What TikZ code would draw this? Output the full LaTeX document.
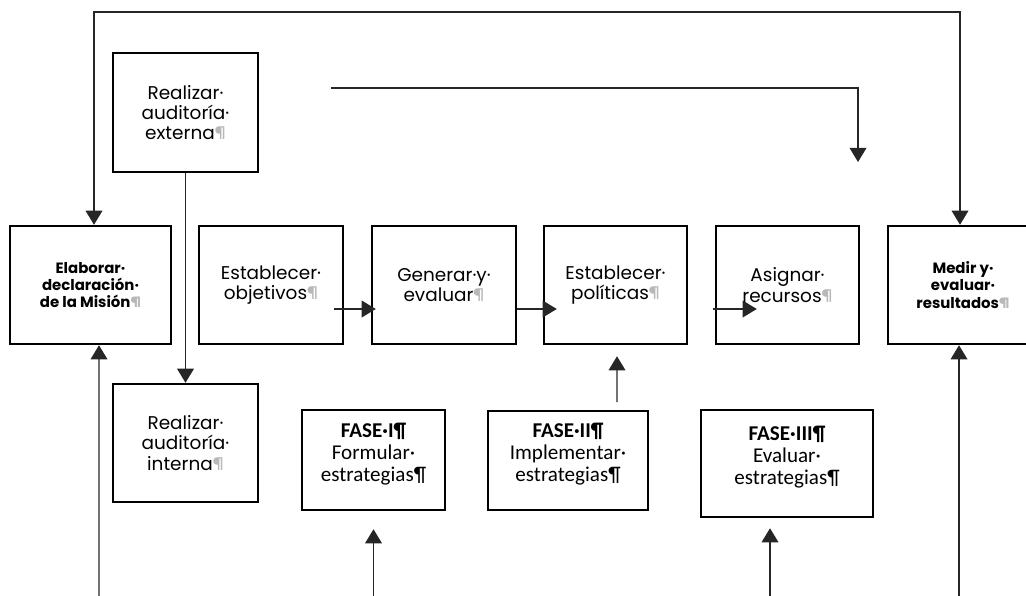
\documentclass[tikz,border=0pt]{standalone}
\usepackage{fontspec}
\setmainfont{Poppins}
\newfontfamily\calibri{Carlito}
\usetikzlibrary{arrows.meta,calc}
\newlength\px
\setlength\px{0.02cm}
\definecolor{marca}{gray}{0.72}
\newcommand\finmarca{{\color{marca}¶}}
\tikzset{
  punta/.tip={Triangle[length=8pt,width=9.5pt]},
  caja/.style={draw, line width=1.4pt, align=center, inner sep=0pt, font=\fontsize{10.5}{11.5}\selectfont},
  cajab/.style={caja, font=\bfseries\fontsize{8.5}{9.8}\selectfont},
  fase/.style={caja, text depth=9pt, font=\calibri\fontsize{12}{12.5}\selectfont},
  conector/.style={line width=0.7pt, draw=black!85},
  flecha/.style={conector, -punta},
}

\begin{document}
\begin{tikzpicture}[x=0.02cm, y=-0.02cm]
    \useasboundingbox (0,0) rectangle (1026,595);
    \clip (0,0) rectangle (1026,595);
    % Fila central
    \node[cajab, minimum width=161\px, minimum height=118\px] (mision) at (90.5,285) {Elaborar·\\declaración·\\de la Misión\finmarca};
    \node[caja, minimum width=144\px, minimum height=118\px] (objetivos) at (271,285) {Establecer·\\objetivos\finmarca};
    \node[caja, minimum width=144\px, minimum height=118\px] (generar) at (444,285) {Generar·y·\\evaluar\finmarca};
    \node[caja, minimum width=143\px, minimum height=118\px] (politicas) at (615.5,285) {Establecer·\\políticas\finmarca};
    \node[caja, minimum width=143\px, minimum height=118\px] (recursos) at (787.5,285) {Asignar·\\recursos\finmarca};
    \node[cajab, minimum width=150\px, minimum height=118\px] (medir) at (963,285) {Medir y·\\evaluar·\\resultados\finmarca};
    % Auditorias
    \node[caja, minimum width=145\px, minimum height=119\px] (externa) at (185.5,112.5) {Realizar·\\auditoría·\\externa\finmarca};
    \node[caja, minimum width=145\px, minimum height=118\px] (interna) at (185.5,443) {Realizar·\\auditoría·\\interna\finmarca};
    % Fases
    \node[fase, minimum width=143\px, minimum height=100\px] (faseI) at (373.5,460) {\textbf{FASE·I¶}\\Formular·\\estrategias¶};
    \node[fase, minimum width=160\px, minimum height=99\px] (faseII) at (568,460.5) {\textbf{FASE·II¶}\\Implementar·\\estrategias¶};
    \node[fase, minimum width=172\px, minimum height=107\px] (faseIII) at (787,463.5) {\textbf{FASE·III¶}\\Evaluar·\\estrategias¶};
    % Lazo superior
    \coordinate (arriba) at (500,12);
    \draw[conector, punta-punta] ([xshift=3.5\px]mision.north) |- (arriba) -| ([xshift=-3\px]medir.north);
    \coordinate (inicioA) at (331,88);
    \coordinate (puntaA) at (858,162);
    \draw[flecha] (inicioA) -| (puntaA);
    \draw[flecha] (externa) -- (interna);
    % Flechas de la fila central
    \draw[flecha] ([xshift=-10\px,yshift=-24\px]objetivos.east) -- ([xshift=5\px,yshift=-24\px]generar.west);
    \draw[flecha] ([yshift=-24\px]generar.east) -- ([xshift=14\px,yshift=-24\px]politicas.west);
    \draw[flecha] ([xshift=-2\px,yshift=-24\px]recursos.west) -- ([xshift=42\px,yshift=-24\px]recursos.west);
    \coordinate (baseII) at (617,402);
    \draw[flecha] (baseII) -- ([xshift=1.5\px,yshift=-11\px]politicas.south);
    % Flechas desde abajo
    \coordinate (pie1) at (99,600);
    \coordinate (pie2) at (373.5,600);
    \coordinate (pie3) at (770,600);
    \coordinate (pie4) at (959,600);
    \draw[flecha] (pie1) -- ([xshift=8.5\px]mision.south);
    \draw[flecha] (pie2) -- ([yshift=-18\px]faseI.south);
    \draw[flecha] (pie3) -- ([xshift=-17\px,yshift=-10\px]faseIII.south);
    \draw[flecha] (pie4) -- ([xshift=-4\px]medir.south);
\end{tikzpicture}
\end{document}
